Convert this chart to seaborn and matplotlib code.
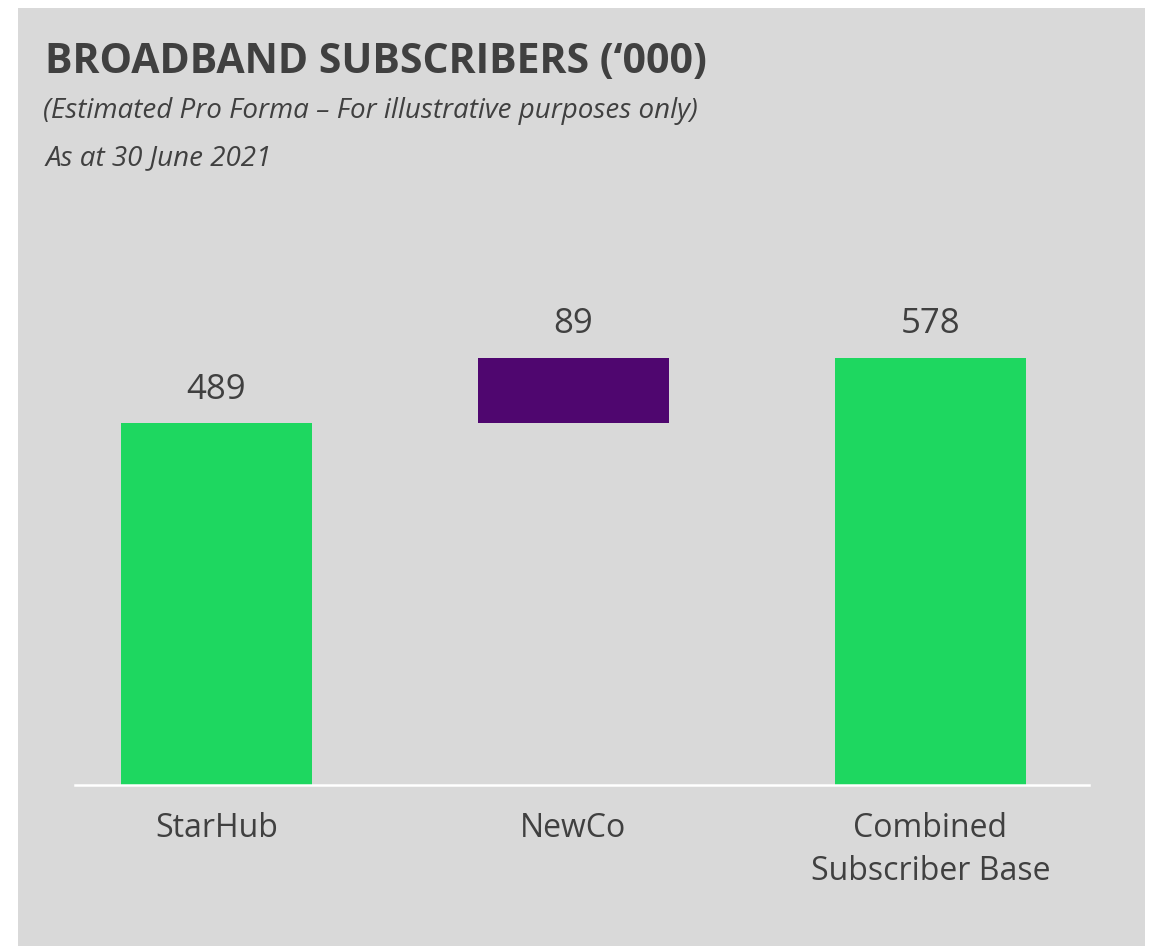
import matplotlib
matplotlib.use("Agg")
import matplotlib.pyplot as plt
import seaborn as sns
import pandas as pd
from matplotlib.patches import Rectangle

categories = ["StarHub", "NewCo", "Combined\nSubscriber Base"]
values = [489, 89, 578]
bases = [0, 489, 0]
value_labels = ["489", "89", "578"]

title = "BROADBAND SUBSCRIBERS (\u2018000)"
subtitle1 = "(Estimated Pro Forma \u2013 For illustrative purposes only)"
subtitle2 = "As at 30 June 2021"

GREEN = "#1ED760"
PURPLE = "#4F066F"
TEXT = "#404040"
BG = "#D9D9D9"

sns.set_theme(style="white")
plt.rcParams["font.family"] = ["Open Sans", "DejaVu Sans"]

W, H = 1153, 946
fig = plt.figure(figsize=(W / 100, H / 100), dpi=100, facecolor="white")
fig.patches.append(Rectangle((18 / W, 0), (1145 - 18) / W, (H - 8) / H,
                             transform=fig.transFigure, facecolor=BG,
                             edgecolor="none", zorder=-10))

left, right = 75 / W, 1089 / W
bottom, top = 1 - 785 / H, 1 - 200 / H
ax = fig.add_axes([left, bottom, right - left, top - bottom])
ax.set_facecolor("none")
ax.set_zorder(5)

df = pd.DataFrame({"category": categories, "value": values, "base": bases})
green_df = df[df["base"] == 0]
float_df = df[df["base"] != 0]

sns.barplot(data=green_df, x="category", y="value", order=categories,
            color=GREEN, width=0.535, saturation=1, ax=ax, linewidth=0)
sns.barplot(data=float_df, x="category", y="value", order=categories,
            color=PURPLE, width=0.535, saturation=1, ax=ax, linewidth=0,
            bottom=float_df["base"].iloc[0])

for i, (v, b, lab) in enumerate(zip(values, bases, value_labels)):
    ax.annotate(lab, xy=(i, v + b), xytext=(0, 12), textcoords="offset points",
                ha="center", va="bottom", fontsize=25, color=TEXT)

ax.set_xlim(-0.396, 2.444)
ax.set_ylim(0, 791)
ax.set_xlabel("")
ax.set_ylabel("")
ax.set_yticks([])
for s in ["top", "right", "left"]:
    ax.spines[s].set_visible(False)
ax.spines["bottom"].set_color("white")
ax.spines["bottom"].set_linewidth(1.8)
ax.tick_params(axis="x", length=0, pad=19.5, labelsize=23, labelcolor=TEXT)
for t in ax.get_xticklabels():
    t.set_linespacing(1.38)

fig.text(45 / W, 1 - 73 / H, title, fontsize=29.5, fontweight="bold",
         color=TEXT, ha="left", va="baseline")
fig.text(43 / W, 1 - 118 / H, subtitle1, fontsize=20, fontstyle="italic",
         color=TEXT, ha="left", va="baseline")
fig.text(46 / W, 1 - 165 / H, subtitle2, fontsize=20, fontstyle="italic",
         color=TEXT, ha="left", va="baseline")

fig.savefig("out.png", dpi=100, facecolor="white")
